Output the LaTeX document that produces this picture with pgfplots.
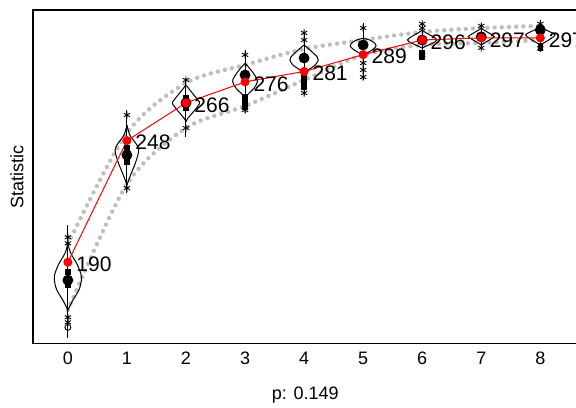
\documentclass[border=0pt]{standalone}
\usepackage{fontspec}
\setmainfont{Liberation Sans}
\usepackage{pgfplots}
\pgfplotsset{compat=1.18}
\definecolor{envgray}{RGB}{190,190,190}
\begin{document}
\begin{tikzpicture}
\begin{axis}[
    scale only axis, width=272pt, height=166.5pt,
    xmin=-0.59, xmax=8.63, ymin=151.3, ymax=310.3,
    xtick={0,...,8}, ytick=\empty, major tick length=0pt,
    axis line style={line width=0.6pt},
    /pgf/number format/assume math mode=true,
    tick label style={font=\fontsize{9}{11}\selectfont},
    xticklabel style={yshift=-1pt},
    label style={font=\fontsize{9}{11}\selectfont},
    xlabel={p: 0.149}, ylabel={Statistic},
    xlabel style={at={(axis description cs:0.5,-0.155)}, anchor=center},
    ylabel style={at={(axis description cs:-0.0294,0.5)}, anchor=center},
    violin/.style={black, line width=0.5pt, smooth, tension=0.55},
    envelope/.style={envgray, line width=2.2pt, line cap=round, dash pattern=on 0pt off 3.6pt, smooth}
]
\coordinate (bl) at (rel axis cs:0,0);
\coordinate (tl) at (rel axis cs:0,1);

% upper and lower envelope
\addplot[envelope] coordinates {(0,198.6) (1,251.6) (2,275.5) (3,284.1) (4,291.7) (5,296) (6,299.8) (7,301.7) (8,302.7)};
\addplot[envelope] coordinates {(0,167.1) (1,227.2) (2,254) (3,264.5) (4,276.9) (5,288.9) (6,293.6) (7,294.6) (8,296)};

% whiskers
\addplot[black, line width=0.5pt, unbounded coords=jump] coordinates {
    (0,207.7) (0,153.7) (0,nan)
    (1,262.6) (1,223) (1,nan)
    (2,277.9) (2,249.8) (2,nan)
    (3,291.2) (3,261.2) (3,nan)
    (4,300) (4,269.8) (4,nan)
    (5,304.1) (5,276.9) (5,nan)
    (6,304.8) (6,287.3) (6,nan)
    (7,304) (7,291.2) (7,nan)
    (8,304.8) (8,291.2)};

% violins, right and left halves
\addplot[violin] coordinates {(0,199.1) (0.045,194.5) (0.16,188.8) (0.225,184) (0.23,181.7) (0.19,176.9) (0.073,171.3) (0,167.1)};
\addplot[violin] coordinates {(0,199.1) (-0.045,194.5) (-0.16,188.8) (-0.225,184) (-0.23,181.7) (-0.19,176.9) (-0.073,171.3) (0,167.1)};
\addplot[violin] coordinates {(1,255.4) (1.05,250.6) (1.15,246.7) (1.2,243.5) (1.15,237.8) (1.06,231.5) (1,226.8)};
\addplot[violin] coordinates {(1,255.4) (0.95,250.6) (0.85,246.7) (0.8,243.5) (0.85,237.8) (0.94,231.5) (1,226.8)};
\addplot[violin] coordinates {(2,274.5) (2.09,271.3) (2.2,267.4) (2.23,265.8) (2.15,262.6) (2.03,258.6) (2,257)};
\addplot[violin] coordinates {(2,274.5) (1.91,271.3) (1.8,267.4) (1.77,265.8) (1.85,262.6) (1.97,258.6) (2,257)};
\addplot[violin] coordinates {(3,284.9) (3.1,281.7) (3.18,278.5) (3.21,276.1) (3.15,272.9) (3.04,269.8) (3,267.4)};
\addplot[violin] coordinates {(3,284.9) (2.9,281.7) (2.82,278.5) (2.79,276.1) (2.85,272.9) (2.96,269.8) (3,267.4)};
\addplot[violin] coordinates {(4,293.6) (4.1,291.2) (4.22,288) (4.24,286.5) (4.19,284.1) (4.07,281.7) (4,280.1)};
\addplot[violin] coordinates {(4,293.6) (3.9,291.2) (3.78,288) (3.76,286.5) (3.81,284.1) (3.93,281.7) (4,280.1)};
\addplot[violin] coordinates {(5,296.8) (5.11,296) (5.2,294.4) (5.22,293.2) (5.17,291.6) (5.06,289.7) (5,288.9)};
\addplot[violin] coordinates {(5,296.8) (4.89,296) (4.8,294.4) (4.78,293.2) (4.83,291.6) (4.94,289.7) (5,288.9)};
\addplot[violin] coordinates {(6,300.8) (6.06,299.5) (6.17,297.8) (6.25,296) (6.17,294.4) (6.06,293) (6,292.1)};
\addplot[violin] coordinates {(6,300.8) (5.94,299.5) (5.83,297.8) (5.75,296) (5.83,294.4) (5.94,293) (6,292.1)};
\addplot[violin] coordinates {(7,301.6) (7.06,300.5) (7.15,299) (7.22,297.6) (7.15,296.2) (7.06,294.7) (7,293.6)};
\addplot[violin] coordinates {(7,301.6) (6.94,300.5) (6.85,299) (6.78,297.6) (6.85,296.2) (6.94,294.7) (7,293.6)};
\addplot[violin] coordinates {(8,302.4) (8.06,301.3) (8.17,299.8) (8.25,298.4) (8.17,296.5) (8.06,294.6) (8,293.6)};
\addplot[violin] coordinates {(8,302.4) (7.94,301.3) (7.83,299.8) (7.75,298.4) (7.83,296.5) (7.94,294.6) (8,293.6)};

% quantile markers
\addplot[only marks, mark=asterisk, mark size=1.8pt, black, mark options={line width=0.45pt}] coordinates {
    (0,201.9) (0,199) (0,163.7) (0,161.3) (1,260.2) (1,225.3) (2,276.9) (2,254)
    (3,288.9) (3,262.6) (4,299.4) (4,296) (4,270.7) (5,301.7) (5,285) (5,281.7)
    (5,278.3) (6,303.7) (6,301.7) (6,288.9) (7,302.7) (7,292.2) (8,303.7) (8,292)};
\addplot[only marks, mark=o, mark size=1.5pt, black, mark options={line width=0.45pt}] coordinates {(0,158.9)};
\addplot[only marks, mark=square*, mark size=1.2pt, black] coordinates {
    (0,185.2) (0,179) (1,244.4) (1,237.8) (2,268.3) (2,263.5) (3,269) (3,266.5) (3,264)
    (4,279.3) (4,276.5) (4,273.5) (6,290) (6,288) (8,293) (8,292)};

% means
\addplot[only marks, mark=*, mark size=2.5pt, black] coordinates {
    (0,181.4) (1,241.1) (2,266) (3,279.3) (4,287.4) (5,293.6) (6,296) (7,297.5) (8,300.8)};

% observed statistic
\addplot[red, line width=0.5pt, mark=*, mark size=2pt,
    nodes near coords, point meta=explicit symbolic,
    every node near coord/.append style={anchor=west, black, xshift=3pt, yshift=-1pt,
        inner sep=1pt, font=\fontsize{10.5}{12}\selectfont}]
    coordinates {(0,190) [190] (1,248) [248] (2,266) [266] (3,276) [276] (4,281) [281]
    (5,289) [289] (6,296) [296] (7,297) [297] (8,297) [297]};
\end{axis}
\pgfresetboundingbox
\path[use as bounding box] ([shift={(-16.5pt,-32pt)}]bl) rectangle ([shift={(271.25pt,5pt)}]tl);
\end{tikzpicture}
\end{document}
